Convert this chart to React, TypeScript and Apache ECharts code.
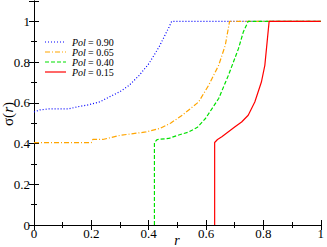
import React, { useEffect, useRef } from "react";
import * as echarts from "echarts";

const seriesNames = ["0.90", "0.65", "0.40", "0.15"];
const colors = ["#0000ff", "#ffa500", "#00e000", "#ff0000"];
const dashes: any[] = [[1, 2], [5, 2, 1, 2], [4, 2], "solid"];

const blue = [[0,0.555],[0.02,0.565],[0.05,0.57],[0.12,0.57],[0.15,0.58],[0.19,0.59],[0.23,0.605],[0.263,0.629],[0.3,0.655],[0.332,0.686],[0.367,0.735],[0.401,0.793],[0.436,0.874],[0.471,0.972],[0.48,1],[1,1]];
const orange = [[0,0.405],[0.2,0.405],[0.205,0.42],[0.24,0.42],[0.3,0.44],[0.39,0.457],[0.44,0.475],[0.476,0.5],[0.517,0.539],[0.574,0.604],[0.609,0.686],[0.644,0.784],[0.667,0.882],[0.682,1],[1,1]];
const green = [[0.42,0],[0.42,0.405],[0.43,0.42],[0.47,0.425],[0.5,0.44],[0.54,0.457],[0.57,0.48],[0.598,0.523],[0.644,0.621],[0.678,0.735],[0.713,0.866],[0.73,0.948],[0.747,1],[1,1]];
const red = [[0.63,0],[0.63,0.405],[0.64,0.42],[0.655,0.433],[0.701,0.482],[0.724,0.506],[0.747,0.539],[0.77,0.604],[0.793,0.702],[0.805,0.784],[0.813,0.899],[0.82,1],[1,1]];
const allData = [blue, orange, green, red];

const FONT = "serif";

export default function App() {
  const ref = useRef<HTMLDivElement>(null);
  useEffect(() => {
    const chart = echarts.init(ref.current!, null, { renderer: "svg" });
    const axisCommon = {
      type: "value" as const,
      min: 0,
      axisLine: { show: true, lineStyle: { color: "#000", width: 1 } },
      axisTick: { show: true, inside: true, length: 5, lineStyle: { color: "#000" } },
      minorTick: { show: true, splitNumber: 2, length: 3, lineStyle: { color: "#000" } },
      splitLine: { show: false },
    };
    const labelStyle = { color: "#000", fontFamily: FONT, fontSize: 13 };
    const fmt = (v: number) => (v > 1.05 ? "" : String(Math.round(v * 10) / 10));
    const legendY = [42, 52, 62, 72];
    const graphic: any[] = [];
    seriesNames.forEach((n, i) => {
      graphic.push({
        type: "line",
        shape: { x1: 45, y1: legendY[i], x2: 66, y2: legendY[i] },
        style: { stroke: colors[i], lineWidth: 1.2, lineDash: dashes[i] === "solid" ? null : dashes[i] },
      });
      graphic.push({
        type: "text",
        x: 72,
        y: legendY[i],
        style: {
          text: "Pol",
          fill: "#000",
          fontFamily: FONT,
          fontStyle: "italic",
          fontSize: 10,
          verticalAlign: "middle",
        },
      });
      graphic.push({
        type: "text",
        x: 88,
        y: legendY[i],
        style: {
          text: "= " + n,
          fill: "#000",
          fontFamily: FONT,
          fontSize: 10,
          verticalAlign: "middle",
        },
      });
    });
    const yName = [
      { t: "σ(", y: 126, it: false },
      { t: "r", y: 112.6, it: true },
      { t: ")", y: 107, it: false },
    ];
    yName.forEach((p) => {
      graphic.push({
        type: "text",
        x: 8,
        y: p.y,
        rotation: Math.PI / 2,
        style: {
          text: p.t,
          fill: "#000",
          fontFamily: FONT,
          fontStyle: p.it ? "italic" : "normal",
          fontSize: 15,
          align: "left",
          verticalAlign: "middle",
        },
      });
    });
    graphic.push({
      type: "text",
      x: 177,
      y: 240,
      style: {
        text: "r",
        fill: "#000",
        fontFamily: FONT,
        fontStyle: "italic",
        fontSize: 14,
        align: "center",
        verticalAlign: "middle",
      },
    });
    chart.setOption({
      animation: false,
      grid: { left: 34, right: 4, top: 1, bottom: 22 },
      xAxis: [
        { ...axisCommon, max: 1, interval: 0.2, position: "bottom",
          axisLabel: { ...labelStyle, margin: 2, formatter: fmt } },
        { ...axisCommon, max: 1, interval: 0.2, position: "top", axisLabel: { show: false } },
      ],
      yAxis: [
        { ...axisCommon, max: 1.1, interval: 0.2, position: "left",
          axisLabel: { ...labelStyle, margin: 4, formatter: fmt } },
        { ...axisCommon, max: 1.1, interval: 0.2, position: "right", axisLabel: { show: false } },
      ],
      series: allData.map((d, i) => ({
        type: "line",
        name: seriesNames[i],
        data: d,
        showSymbol: false,
        symbol: "none",
        xAxisIndex: 0,
        yAxisIndex: 0,
        lineStyle: { color: colors[i], width: 1.2, type: dashes[i] },
        z: 2 + i,
      })),
      graphic,
    });
    return () => chart.dispose();
  }, []);
  return <div ref={ref} style={{ width: 327, height: 247, position: "absolute", left: 0, top: 0 }} />;
}
